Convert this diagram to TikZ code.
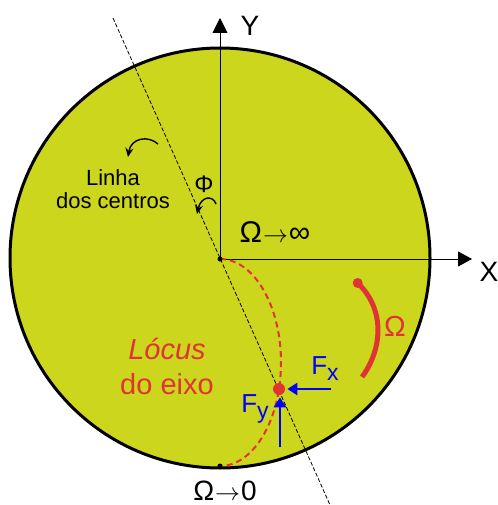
\documentclass[tikz,border=0pt]{standalone}
\usepackage{fontspec}
\setmainfont{Liberation Sans}
\usetikzlibrary{arrows.meta}
\definecolor{disco}{RGB}{204,214,29}
\definecolor{vermelho}{RGB}{224,52,52}

\begin{document}
\begin{tikzpicture}[x=1pt,y=-1pt,>=Stealth,line width=0.8pt,
    rotulo/.style={inner sep=0pt,font=\fontsize{#1}{#1}\selectfont},
    rotulo/.default=28,
    ponto/.style={circle,fill,inner sep=0pt,minimum size=#1},
    seta/.style={line width=1.4pt,-{Stealth[length=9pt,width=8pt]}}]
    \useasboundingbox (0,0) rectangle (497,505);

    % Disc of the bearing
    \fill[disco] (220,258) circle[radius=210];
    \draw[line width=3pt] (220,258) circle[radius=210];

    % Axes
    \coordinate (O) at (220,259);
    \coordinate (ytip) at (220,18);
    \coordinate (xtip) at (472,259);
    \draw[-{Triangle[length=15pt,width=15pt]}] (O) -- (ytip);
    \draw[-{Triangle[length=14pt,width=15pt]}] (O) -- (xtip);
    \node[rotulo] (Y) at (250,26) {Y};
    \node[rotulo] (X) at (489,272) {X};

    % Line of centres
    \coordinate (lc1) at (113,18);
    \coordinate (lc2) at (330,505);
    \draw[line width=0.8pt,dash pattern=on 4pt off 2pt] (lc1) -- (lc2);

    % Locus of the shaft
    \draw[vermelho,line width=2pt,dash pattern=on 6pt off 4pt]
        (O) arc[start angle=-90,end angle=90,x radius=61,y radius=103.5];
    \node[ponto=5pt] (centro) at (O) {};
    \node[ponto=5pt] (fundo) at (220,466) {};
    \node[ponto=12pt,fill=vermelho] (eixo) at (279,389) {};

    % Speed arc
    \node[ponto=10pt,fill=vermelho] (w0) at (357.7,283) {};
    \coordinate (w1) at (362,377);
    \draw[vermelho,line width=5pt] (w0.center) .. controls (386,310) and (382,350) .. (w1);
    \node[rotulo=29,text=vermelho] (omega) at (395,326) {Ω};

    % Forces
    \coordinate (fxs) at (331,389);
    \coordinate (fys) at (280,447);
    \draw[blue,line width=2.5pt,-{Triangle[length=10pt,width=12pt]},shorten >=2pt] (fxs) -- (eixo.east);
    \draw[blue,line width=2.5pt,-{Triangle[length=10pt,width=12pt]},shorten >=2pt] (fys) -- (eixo.south -| fys);
    \node[rotulo=26,text=blue] (Fx) at (325,369) {F\raisebox{-6pt}{\fontsize{23}{23}\selectfont x}};
    \node[rotulo=26,text=blue] (Fy) at (255,409) {F\raisebox{-6pt}{\fontsize{23}{23}\selectfont y}};

    % Labels
    \node[rotulo=30] (winf) at (275,232) {Ω\kern1pt$\rightarrow$\kern1pt∞};
    \node[rotulo] (wzero) at (225,491) {Ω\kern1pt$\rightarrow$\kern1pt0};
    \node[rotulo=24] (phi) at (204,184) {Φ};
    \node[rotulo=22,align=center] (linha) at (113,189) {Linha\\[1pt]dos centros};
    \node[rotulo=29,text=vermelho,align=center] (locus) at (167,366) {\textit{Lócus}\\[6pt]do eixo};

    % Small curved arrows
    \coordinate (la) at (158,144);
    \coordinate (lb) at (128,157);
    \draw[seta] (la) .. controls (148,135) and (131,138) .. (lb);
    \coordinate (pa) at (216,204);
    \coordinate (pb) at (197,214);
    \draw[seta] (pa) .. controls (213,195) and (201,196) .. (pb);
\end{tikzpicture}
\end{document}
